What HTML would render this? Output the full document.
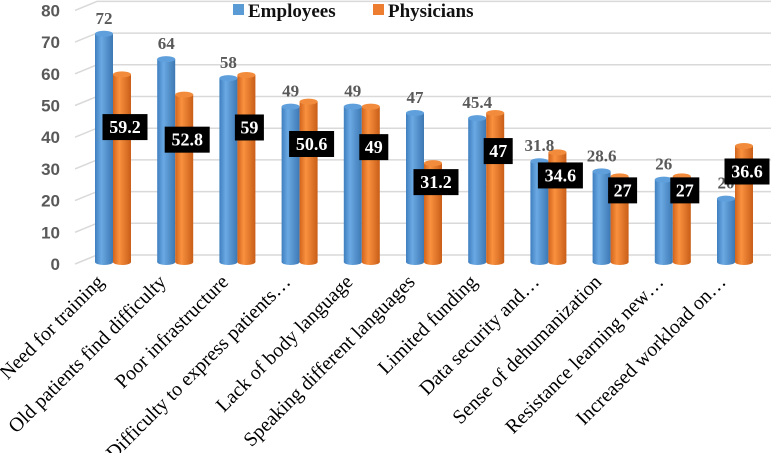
<!DOCTYPE html>
<html><head><meta charset="utf-8"><style>
html,body{margin:0;padding:0;background:#fff;}
svg{display:block;}
text{font-family:"Liberation Serif",serif;}
</style></head><body>
<svg id="chart" width="778" height="453" viewBox="0 0 778 453" xmlns="http://www.w3.org/2000/svg">
<defs>
<linearGradient id="gb" x1="0" x2="1"><stop offset="0" stop-color="#3f7fbf"/><stop offset="0.35" stop-color="#6aa9e3"/><stop offset="1" stop-color="#3d78b3"/></linearGradient>
<linearGradient id="go" x1="0" x2="1"><stop offset="0" stop-color="#d2641c"/><stop offset="0.35" stop-color="#f9913f"/><stop offset="1" stop-color="#c95e18"/></linearGradient>
</defs>
<g id="grid"></g>
<g id="yaxis"></g>
<g id="bars"></g>
<g id="labels"></g>
<g id="xaxis"></g>
<g>
  <g><rect x="233" y="4" width="11" height="11" fill="#5b9bd5"/><text x="248" y="17" font-size="19" font-weight="bold" fill="#111">Employees</text></g>
  <g><rect x="373" y="4" width="11" height="11" fill="#ed7d31"/><text x="388" y="17" font-size="19" font-weight="bold" fill="#111">Physicians</text></g>
</g>
</svg>
<script>
const categories=["Need for training","Old patients find difficulty","Poor infrastructure","Difficulty to express patients…","Lack of body language","Speaking different languages","Limited funding","Data security and…","Sense of dehumanization","Resistance learning new…","Increased workload on…"];
const employees=[72,64,58,49,49,47,45.4,31.8,28.6,26,20];
const physicians=[59.2,52.8,59,50.6,49,31.2,47,34.6,27,27,36.6];
const yTicks=[0,10,20,30,40,50,60,70,80];
const NS="http://www.w3.org/2000/svg";
function mk(tag,attrs,parent){const e=document.createElementNS(NS,tag);for(const k in attrs)e.setAttribute(k,attrs[k]);parent.appendChild(e);return e;}
const yFront=v=>262-v*3.17;
const yBack=v=>255-v*3.17;
const xC=i=>113+i*62.2;
const grid=document.getElementById('grid'),ya=document.getElementById('yaxis'),bars=document.getElementById('bars'),lab=document.getElementById('labels'),xa=document.getElementById('xaxis');
yTicks.forEach(t=>{
  const p=mk('path',{d:`M75 ${yBack(t)+9} L97 ${yBack(t)} L771 ${yBack(t)}`,stroke:'#d9d9d9','stroke-width':1.5,fill:'none'},grid);
  
  
  const tx=mk('text',{x:60,y:yBack(t)+15,'text-anchor':'end','font-size':17,'font-weight':'bold',fill:'#595959',style:'font-family:"Liberation Sans",sans-serif'},ya);
  tx.textContent=t;
  
  
});
function cyl(x,w,v,fill,top,name){
  const yt=yFront(v),yb=yFront(0);
  const g=mk('g',{},bars);
  
  
  mk('rect',{x:x,y:yt,width:w,height:yb-yt,fill:fill},g);
  mk('ellipse',{cx:x+w/2,cy:yb,rx:w/2,ry:3,fill:fill},g);
  mk('ellipse',{cx:x+w/2,cy:yt,rx:w/2,ry:3,fill:top},g);
}
categories.forEach((c,i)=>{
  const x=xC(i);
  cyl(x-18,18,employees[i],'url(#gb)','#5fa0dc','bar-employees-'+i);
  cyl(x,18,physicians[i],'url(#go)','#f28c3c','bar-physicians-'+i);
  const t=mk('text',{x:x-9,y:yFront(employees[i])-10,'text-anchor':'middle','font-size':17,'font-weight':'bold',fill:'#595959'},lab);
  t.textContent=employees[i];
  
  
  const s=String(physicians[i]);
  const w=s.length>2?45:29;
  const cy=yFront(physicians[i])*0.62+81;
  const bx=mk('rect',{x:x+12-w/2,y:cy-13,width:w,height:26,fill:'#000'},lab);
  
  
  const t2=mk('text',{x:x+12,y:cy+6,'text-anchor':'middle','font-size':18,'font-weight':'bold',fill:'#fff'},lab);
  t2.textContent=s;
  
  
  const xl=mk('text',{x:0,y:0,'text-anchor':'end','font-size':20,fill:'#000',transform:`translate(${x-8},283) rotate(-45)`},xa);
  xl.textContent=c;
  
  
});
</script>
</body></html>
